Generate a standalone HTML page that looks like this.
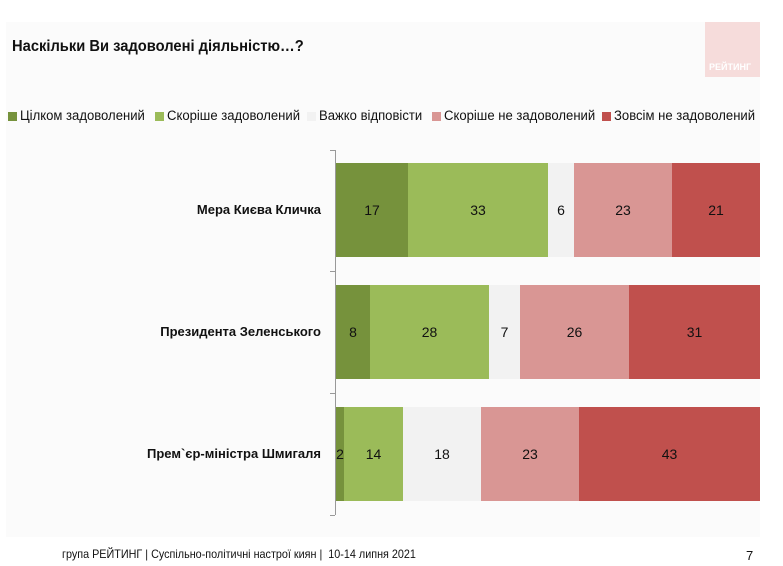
<!DOCTYPE html>
<html><head><meta charset="utf-8"><style>
body{margin:0;width:783px;height:566px;background:#fff;position:relative;overflow:hidden;font-family:"Liberation Sans",sans-serif;color:#111}
.bg{position:absolute;left:6px;top:22px;width:754px;height:515px;background:#fbfbfb}
.t{position:absolute;white-space:nowrap;transform-origin:0 50%}
.sq{position:absolute;width:9px;height:9px;top:112px}
.bar{position:absolute;height:94px;display:flex}
.bar div{height:100%;display:flex;align-items:center;justify-content:center;font-size:14px;color:#111}
.lab{position:absolute;right:462px;font-weight:bold;font-size:13px;white-space:nowrap;transform-origin:100% 50%;transform:scaleX(1)}
</style></head><body>
<div class="bg"></div>
<div style="position:absolute;left:705px;top:22px;width:55px;height:55px;background:#f6dcdb"></div>
<div class="t" style="left:709px;top:62px;font-size:9px;font-weight:bold;color:#fff">РЕЙТИНГ</div>
<div class="t" style="left:12px;top:38px;font-size:16px;font-weight:bold;transform:scaleX(.92)">Наскільки Ви задоволені діяльністю…?</div>
<div class="sq" style="left:8px;background:#76923c"></div>
<div class="t" style="left:20px;top:108px;font-size:13.5px;transform:scaleX(.97)">Цілком задоволений</div>
<div class="sq" style="left:155px;background:#9bbb59"></div>
<div class="t" style="left:167px;top:108px;font-size:13.5px;transform:scaleX(.97)">Скоріше задоволений</div>
<div class="sq" style="left:307px;background:#f2f2f2"></div>
<div class="t" style="left:319px;top:108px;font-size:13.5px;transform:scaleX(.97)">Важко відповісти</div>
<div class="sq" style="left:432px;background:#d99694"></div>
<div class="t" style="left:444px;top:108px;font-size:13.5px;transform:scaleX(.97)">Скоріше не задоволений</div>
<div class="sq" style="left:602px;background:#c0504d"></div>
<div class="t" style="left:614px;top:108px;font-size:13.5px;transform:scaleX(.97)">Зовсім не задоволений</div>
<div style="position:absolute;left:335px;top:150px;width:1px;height:365px;background:#999"></div>
<div style="position:absolute;left:330px;top:150px;width:5px;height:1px;background:#999"></div>
<div style="position:absolute;left:330px;top:271px;width:5px;height:1px;background:#999"></div>
<div style="position:absolute;left:330px;top:393px;width:5px;height:1px;background:#999"></div>
<div style="position:absolute;left:330px;top:515px;width:5px;height:1px;background:#999"></div>
<div class="lab" style="top:202px">Мера Києва Кличка</div>
<div class="lab" style="top:324px">Президента Зеленського</div>
<div class="lab" style="top:446px">Прем`єр-міністра Шмигаля</div>
<div class="bar" style="left:336px;top:163px">
<div style="width:72px;background:#76923c">17</div><div style="width:140px;background:#9bbb59">33</div><div style="width:26px;background:#f2f2f2">6</div><div style="width:98px;background:#d99694">23</div><div style="width:88px;background:#c0504d">21</div></div>
<div class="bar" style="left:336px;top:285px">
<div style="width:34px;background:#76923c">8</div><div style="width:119px;background:#9bbb59">28</div><div style="width:31px;background:#f2f2f2">7</div><div style="width:109px;background:#d99694">26</div><div style="width:131px;background:#c0504d">31</div></div>
<div class="bar" style="left:336px;top:407px">
<div style="width:8px;background:#76923c">2</div><div style="width:59px;background:#9bbb59">14</div><div style="width:78px;background:#f2f2f2">18</div><div style="width:98px;background:#d99694">23</div><div style="width:181px;background:#c0504d">43</div></div>
<div class="t" style="left:62px;top:547px;font-size:12px;transform:scaleX(.9)">група РЕЙТИНГ | Суспільно-політичні настрої киян |&nbsp; 10-14 липня 2021</div>
<div class="t" style="left:746px;top:548px;font-size:13px">7</div>
</body></html>
